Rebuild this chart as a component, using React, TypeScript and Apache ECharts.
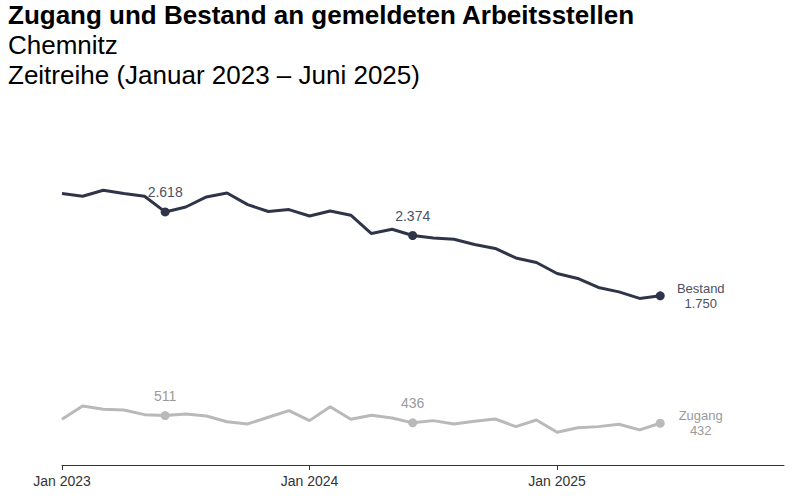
import { useEffect, useRef } from 'react'
import * as echarts from 'echarts'

const months: string[] = []
for (let y = 2023; y <= 2025; y++) {
  for (let m = 1; m <= 12; m++) months.push(`${y}-${String(m).padStart(2, '0')}`)
}

const bestand = [
  2808, 2780, 2842, 2808, 2780, 2618, 2669, 2773, 2814, 2694, 2622, 2642,
  2576, 2628, 2584, 2394, 2439, 2374, 2349, 2336, 2281, 2240, 2142, 2095,
  1981, 1930, 1837, 1791, 1723, 1750,
]

const zugang = [
  473, 611, 576, 569, 521, 511, 528, 507, 448, 425, 494, 562,
  459, 603, 473, 514, 487, 436, 459, 425, 452, 476, 397, 466,
  339, 386, 397, 421, 363, 432,
]

const markedIdx = [5, 17, 29]

const FONT = '"Liberation Sans", Arial, sans-serif'
const BESTAND_COLOR = '#2f3549'
const BESTAND_TEXT = '#4b5164'
const ZUGANG_COLOR = '#b9b9b9'
const ZUGANG_TEXT = '#9a9a9a'

const fmt = (v: number) => String(v).replace(/\B(?=(\d{3})+(?!\d))/g, '.')

function buildData(values: number[], name: string, textColor: string) {
  const last = values.length - 1
  return values.map((v, i) => {
    if (!markedIdx.includes(i)) return v
    const isLast = i === last
    return {
      value: v,
      symbolSize: 9,
      label: isLast
        ? {
            show: true,
            position: 'right',
            distance: 36,
            align: 'center',
            verticalAlign: 'middle',
            formatter: `${name}\n${fmt(v)}`,
            lineHeight: 15,
            color: textColor,
            fontSize: 13,
            fontFamily: FONT,
          }
        : {
            show: true,
            position: 'top',
            distance: 8,
            formatter: fmt(v),
            color: textColor,
            fontSize: 14,
            fontFamily: FONT,
          },
    }
  })
}

export default function App() {
  const ref = useRef<HTMLDivElement>(null)

  useEffect(() => {
    if (!ref.current) return
    const chart = echarts.init(ref.current, undefined, { renderer: 'svg' })

    const option: echarts.EChartsOption = {
      animation: false,
      grid: { left: 62, right: 24, top: 175, bottom: 33 },
      graphic: [
        {
          type: 'text',
          left: 8,
          top: 2,
          style: { text: 'Zugang und Bestand an gemeldeten Arbeitsstellen', font: `bold 26px ${FONT}`, fill: '#000' },
        },
        {
          type: 'text',
          left: 8,
          top: 32,
          style: { text: 'Chemnitz', font: `26px ${FONT}`, fill: '#000' },
        },
        {
          type: 'text',
          left: 8,
          top: 62,
          style: { text: 'Zeitreihe (Januar 2023 – Juni 2025)', font: `26px ${FONT}`, fill: '#000' },
        },
      ],
      xAxis: {
        type: 'category',
        data: months,
        boundaryGap: false,
        axisLine: { lineStyle: { color: '#333', width: 1 } },
        axisTick: {
          show: true,
          length: 5,
          interval: (i: number) => i % 12 === 0,
          lineStyle: { color: '#333' },
        },
        axisLabel: {
          interval: (i: number) => i % 12 === 0,
          formatter: (v: string) => {
            const [y] = v.split('-')
            return `Jan ${y}`
          },
          color: '#333',
          fontSize: 14,
          fontFamily: FONT,
          margin: 9,
        },
      },
      yAxis: {
        type: 'value',
        min: 0,
        max: 3000,
        show: false,
        splitLine: { show: false },
      },
      series: [
        {
          name: 'Bestand',
          type: 'line',
          data: buildData(bestand, 'Bestand', BESTAND_TEXT),
          symbol: 'circle',
          symbolSize: 0,
          showAllSymbol: true,
          lineStyle: { color: BESTAND_COLOR, width: 3 },
          itemStyle: { color: BESTAND_COLOR },
        },
        {
          name: 'Zugang',
          type: 'line',
          data: buildData(zugang, 'Zugang', ZUGANG_TEXT),
          symbol: 'circle',
          symbolSize: 0,
          showAllSymbol: true,
          lineStyle: { color: ZUGANG_COLOR, width: 3 },
          itemStyle: { color: ZUGANG_COLOR },
        },
      ],
    }

    chart.setOption(option)
    return () => chart.dispose()
  }, [])

  return (
    <div
      ref={ref}
      style={{ position: 'fixed', left: 0, top: 0, width: 808, height: 498, background: '#fff' }}
    />
  )
}
